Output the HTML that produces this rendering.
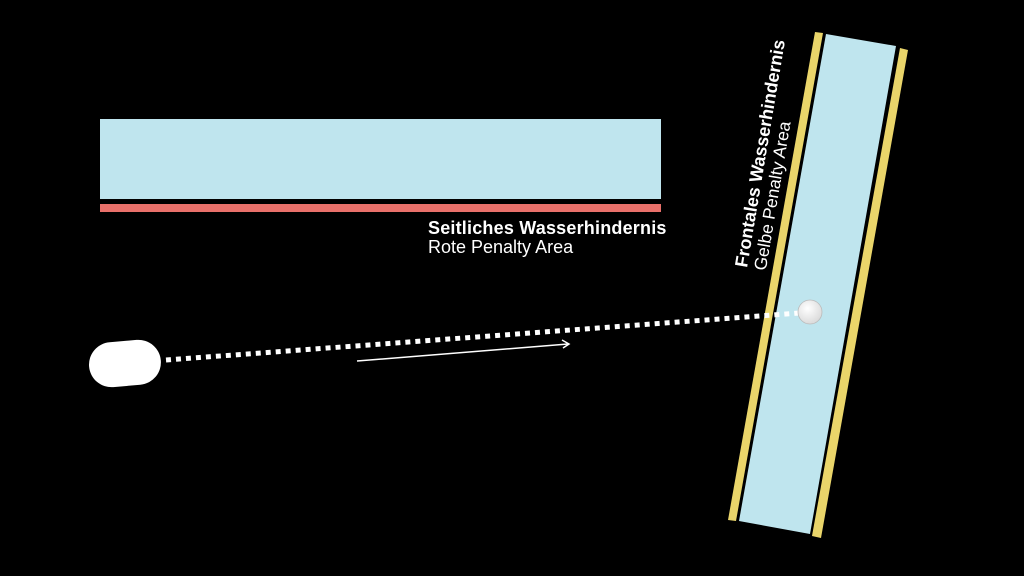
<!DOCTYPE html>
<html><head><meta charset="utf-8"><style>
html,body{margin:0;padding:0;background:#000;width:1024px;height:576px;overflow:hidden}
svg{display:block}
text{font-family:"Liberation Sans",sans-serif;fill:#fff}
</style></head><body>
<svg width="1024" height="576" viewBox="0 0 1024 576">
<defs><radialGradient id="b" cx="0.4" cy="0.35" r="0.7"><stop offset="0" stop-color="#fff"/><stop offset="1" stop-color="#d8d8d8"/></radialGradient></defs>
<rect x="0" y="0" width="1024" height="576" fill="#000"/>
<rect x="100" y="119" width="561" height="80" fill="#bfe5ee"/>
<rect x="100" y="204" width="561" height="8" fill="#e8706a"/>
<text x="428" y="234" font-size="18" font-weight="bold" letter-spacing="0.2">Seitliches Wasserhindernis</text>
<text x="428" y="253" font-size="18">Rote Penalty Area</text>
<polygon points="815,32 823,33 736,521 728,520" fill="#ead56a"/>
<polygon points="826,34 896,46 810,534 739,521" fill="#bfe5ee"/>
<polygon points="900,48 908,50 821,538 812,536" fill="#ead56a"/>
<g transform="translate(747,268) rotate(-80.5)">
<text x="0" y="0" font-size="18" font-weight="bold">Frontales Wasserhindernis</text>
<text x="0" y="19" font-size="17.5">Gelbe Penalty Area</text>
</g>
<line x1="166" y1="360" x2="800" y2="313" stroke="#fff" stroke-width="5" stroke-dasharray="5 5"/>
<rect x="89" y="341" width="72" height="45" rx="22.5" fill="#fff" transform="rotate(-5 125 364)"/>
<line x1="357" y1="361" x2="568" y2="344" stroke="#fff" stroke-width="1.5"/>
<polyline points="562,340 569,344 563,348" fill="none" stroke="#fff" stroke-width="1.5"/>
<circle cx="810" cy="312" r="12" fill="url(#b)" stroke="#bbb" stroke-width="0.8"/>
</svg>
</body></html>
